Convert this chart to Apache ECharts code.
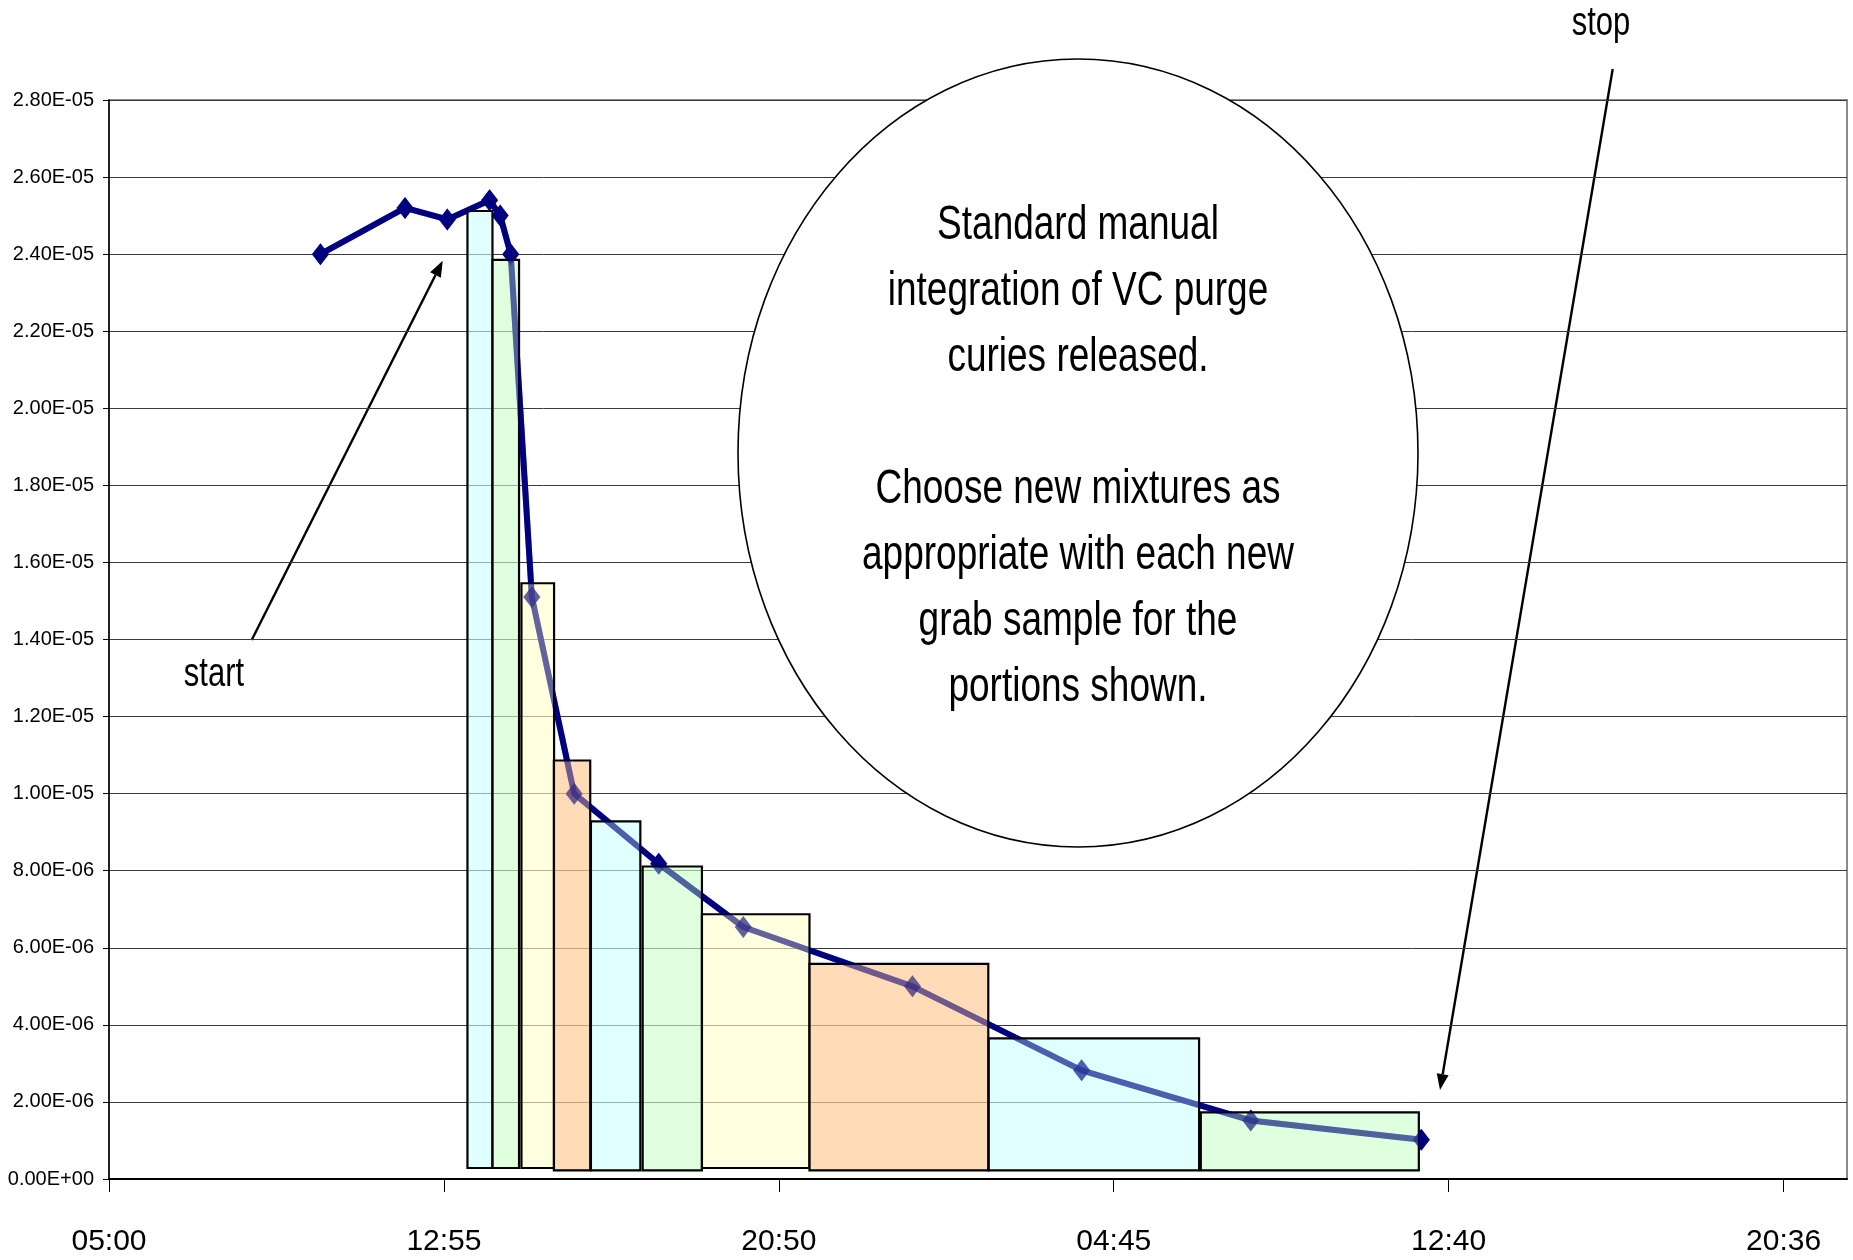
<!DOCTYPE html>
<html>
<head>
<meta charset="utf-8">
<script src="https://cdn.jsdelivr.net/npm/echarts@6/dist/echarts.min.js"></script>
<style>
html,body{margin:0;padding:0;background:#fff;}
#chart{width:1853px;height:1260px;}
</style>
</head>
<body>
<div id="chart"></div>
<script>
// ---- data ----
// x values are minutes after 05:00 of the first day
const xTickLabels = ['05:00', '12:55', '20:50', '04:45', '12:40', '20:36'];
const xTickStep = 475.2;          // 0.33 day
const xAxisMax = 2466;
const yTickLabels = ['0.00E+00', '2.00E-06', '4.00E-06', '6.00E-06', '8.00E-06', '1.00E-05', '1.20E-05',
  '1.40E-05', '1.60E-05', '1.80E-05', '2.00E-05', '2.20E-05', '2.40E-05', '2.60E-05', '2.80E-05'];

const lineMinutes = [300, 420, 480, 540, 555, 570, 600, 660, 780, 900, 1140, 1380, 1620, 1862];
const lineValues = [2.40e-5, 2.52e-5, 2.49e-5, 2.54e-5, 2.50e-5, 2.40e-5, 1.51e-5, 1.00e-5,
  8.18e-6, 6.54e-6, 5.00e-6, 2.82e-6, 1.52e-6, 1.02e-6];

const barStart  = [508.6, 544.1, 585.2, 631.2, 683.8, 757.2, 841.3, 993.9, 1248.2, 1549.1];
const barEnd    = [544.1, 581.8, 631.5, 682.8, 753.9, 841.3, 993.9, 1247.6, 1546.7, 1858.5];
const barTop    = [2.512e-5, 2.385e-5, 1.546e-5, 1.086e-5, 9.28e-6, 8.11e-6, 6.87e-6, 5.58e-6, 3.65e-6, 1.73e-6];
const barBottom = [2.85e-7, 2.85e-7, 2.85e-7, 2.26e-7, 2.26e-7, 2.26e-7, 2.85e-7, 2.26e-7, 2.26e-7, 2.26e-7];

const noteLines = ['Standard manual', 'integration of VC purge', 'curies released.', '',
  'Choose new mixtures as', 'appropriate with each new', 'grab sample for the', 'portions shown.'];
const startLabel = 'start';
const stopLabel = 'stop';

// ---- styles ----
const barPalette = ['rgba(204,255,255,0.6)', 'rgba(204,255,204,0.62)', 'rgba(255,255,204,0.62)', 'rgba(255,204,153,0.7)'];
const sans = '"Liberation Sans", Arial, sans-serif';
const stretchY = 1.3;

const xTickValues = xTickLabels.map((_, i) => +(i * xTickStep).toFixed(1));
const lineData = lineMinutes.map((m, i) => [m, lineValues[i]]);
const barData = barStart.map((s, i) => [s, barEnd[i], barTop[i], barBottom[i], i]);

function arrow(x1, y1, x2, y2) {
  const dx = x2 - x1, dy = y2 - y1, len = Math.sqrt(dx * dx + dy * dy);
  const ux = dx / len, uy = dy / len, hl = 16, hw = 6;
  const bx = x2 - ux * hl, by = y2 - uy * hl;
  return {
    type: 'group', z: 50,
    children: [
      { type: 'line', shape: { x1: x1, y1: y1, x2: bx, y2: by }, style: { stroke: '#000', lineWidth: 2.4 } },
      { type: 'polygon', shape: { points: [[x2, y2], [bx - uy * hw, by + ux * hw], [bx + uy * hw, by - ux * hw]] },
        style: { fill: '#000' } }
    ]
  };
}

const chart = echarts.init(document.getElementById('chart'), null, { renderer: 'canvas' });
const option = {
  backgroundColor: '#fff',
  animation: false,
  grid: { left: 109, top: 100, right: 6, bottom: 81, outerBoundsMode: 'none', containLabel: false,
    show: true, borderColor: '#8c8c8c', borderWidth: 2 },
  xAxis: {
    type: 'value', min: 0, max: xAxisMax,
    axisLine: { show: true, onZero: false, lineStyle: { color: '#000', width: 2 } },
    axisTick: { show: true, customValues: xTickValues, length: 13, lineStyle: { color: '#000', width: 1 } },
    axisLabel: {
      customValues: xTickValues, margin: 48, color: '#000', fontFamily: sans, fontSize: 30,
      formatter: v => xTickLabels[Math.round(v / xTickStep)] || ''
    },
    splitLine: { show: false }
  },
  yAxis: {
    type: 'value', min: 0, max: 2.8e-5, interval: 2e-6,
    axisLine: { show: true, onZero: false, lineStyle: { color: '#000', width: 1.5 } },
    axisTick: { show: true, length: 6, lineStyle: { color: '#000' } },
    axisLabel: {
      margin: 15, color: '#000', fontFamily: sans, fontSize: 20,
      formatter: v => yTickLabels[Math.round(v / 2e-6)] || ''
    },
    splitLine: { show: true, lineStyle: { color: '#3a3a3a', width: 1 } }
  },
  series: [
    {
      type: 'line', data: lineData, z: 2,
      symbol: 'diamond', symbolSize: [17, 22],
      lineStyle: { color: '#000080', width: 6 },
      itemStyle: { color: '#000080' },
      clip: false
    },
    {
      type: 'custom', z: 3,
      data: barData,
      renderItem: function (params, api) {
        const p0 = api.coord([api.value(0), api.value(2)]);
        const p1 = api.coord([api.value(1), api.value(3)]);
        const idx = api.value(4);
        return {
          type: 'rect',
          shape: { x: p0[0], y: p0[1], width: p1[0] - p0[0], height: p1[1] - p0[1] },
          style: { fill: barPalette[idx % 4], stroke: '#000', lineWidth: 2.2 }
        };
      }
    },
    {
      // the same curve seen through the patterned boxes (faint overlay)
      type: 'line', data: lineData, z: 4, silent: true,
      symbol: 'diamond', symbolSize: [17, 22],
      lineStyle: { color: '#000080', width: 6, opacity: 0.38 },
      itemStyle: { color: '#000080', opacity: 0.38 },
      clip: false
    }
  ],
  graphic: [
    {
      type: 'ellipse', z: 40,
      shape: { cx: 1078, cy: 453, rx: 340, ry: 394 },
      style: { fill: '#fff', stroke: '#000', lineWidth: 1.6 }
    },
    {
      type: 'text', z: 41, x: 1078, y: 457, scaleY: stretchY,
      style: {
        text: noteLines.join('\n'), fill: '#000', font: '37px ' + sans,
        lineHeight: 66 / stretchY, align: 'center', verticalAlign: 'middle'
      }
    },
    {
      type: 'text', z: 41, x: 214, y: 675, scaleY: stretchY,
      style: { text: startLabel, fill: '#000', font: '31px ' + sans, align: 'center', verticalAlign: 'middle' }
    },
    {
      type: 'text', z: 41, x: 1601, y: 24, scaleY: stretchY,
      style: { text: stopLabel, fill: '#000', font: '31px ' + sans, align: 'center', verticalAlign: 'middle' }
    },
    arrow(251.7, 640, 442.7, 260.7),
    arrow(1612.7, 69, 1440, 1090)
  ]
};
chart.setOption(option);
</script>
</body>
</html>
